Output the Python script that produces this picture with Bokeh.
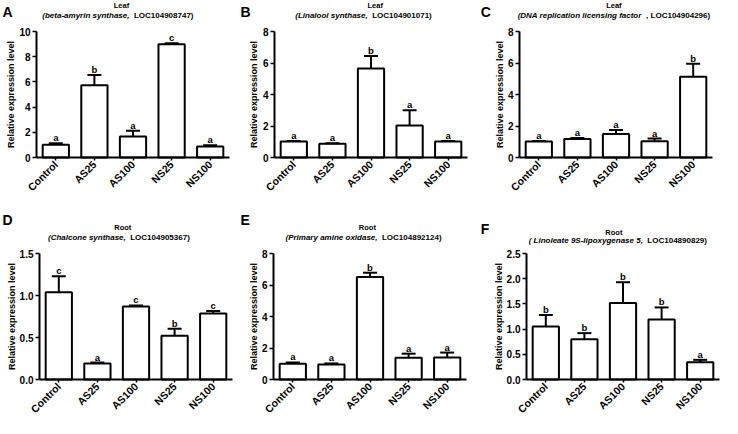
import math
from bokeh.plotting import figure
from bokeh.layouts import gridplot
from bokeh.models import ColumnDataSource, Range1d, FixedTicker, Label, NumeralTickFormatter
from bokeh.core.properties import value
from bokeh.embed import file_html
from bokeh.resources import INLINE

FONT = "Liberation Sans"

categories = ["Control", "AS25", "AS100", "NS25", "NS100"]

a_mean = [1.02, 5.73, 1.66, 8.98, 0.87]
a_err = [0.12, 0.81, 0.46, 0.08, 0.11]
a_sig = ["a", "b", "a", "c", "a"]
a_ticks = [0, 2, 4, 6, 8, 10]

b_mean = [1.02, 0.87, 5.65, 2.03, 1.02]
b_err = [0.02, 0.03, 0.79, 0.97, 0.02]
b_sig = ["a", "a", "b", "a", "a"]
b_ticks = [0, 2, 4, 6, 8]

c_mean = [1.02, 1.18, 1.50, 1.03, 5.12]
c_err = [0.02, 0.06, 0.25, 0.17, 0.84]
c_sig = ["a", "a", "a", "a", "b"]
c_ticks = [0, 2, 4, 6, 8]

d_mean = [1.04, 0.19, 0.87, 0.52, 0.785]
d_err = [0.19, 0.012, 0.012, 0.085, 0.03]
d_sig = ["c", "a", "c", "b", "c"]
d_ticks = [0.0, 0.5, 1.0, 1.5]

e_mean = [1.00, 0.96, 6.51, 1.38, 1.40]
e_err = [0.08, 0.06, 0.27, 0.26, 0.31]
e_sig = ["a", "a", "b", "a", "a"]
e_ticks = [0, 2, 4, 6, 8]

f_mean = [1.05, 0.80, 1.52, 1.19, 0.34]
f_err = [0.23, 0.12, 0.41, 0.24, 0.05]
f_sig = ["b", "b", "b", "b", "a"]
f_ticks = [0.0, 0.5, 1.0, 1.5, 2.0, 2.5]

panel_letters = ["A", "B", "C", "D", "E", "F"]
tissues = ["Leaf", "Leaf", "Leaf", "Root", "Root", "Root"]
gene_names = ["(beta-amyrin synthase,", "(Linalool synthase,", "(DNA replication licensing factor",
              "(Chalcone synthase,", "(Primary amine oxidase,", "( Linoleate 9S-lipoxygenase 5,"]
gene_ids = ["LOC104908747)", "LOC104901071)", ", LOC104904296)",
            "LOC104905367)", "LOC104892124)", "LOC104890829)"]
y_title = "Relative expression level"

panel_data = [
    (a_mean, a_err, a_sig, a_ticks, "0"),
    (b_mean, b_err, b_sig, b_ticks, "0"),
    (c_mean, c_err, c_sig, c_ticks, "0"),
    (d_mean, d_err, d_sig, d_ticks, "0.0"),
    (e_mean, e_err, e_sig, e_ticks, "0"),
    (f_mean, f_err, f_sig, f_ticks, "0.0"),
]

W_CHAR = {" ": 278, "(": 333, ")": 333, ",": 278, "-": 333, ".": 278,
          "A": 722, "B": 722, "C": 722, "D": 722, "E": 667, "F": 611, "L": 611, "N": 722,
          "O": 778, "P": 667, "S": 667, "a": 556, "b": 611, "c": 556, "d": 611, "e": 556,
          "f": 333, "g": 611, "h": 611, "i": 278, "j": 278, "k": 556, "l": 278, "m": 889,
          "n": 611, "o": 611, "p": 611, "q": 611, "r": 389, "s": 556, "t": 333, "u": 611,
          "v": 556, "w": 778, "x": 556, "y": 556, "z": 500}


def text_w(s, size):
    return sum(W_CHAR.get(ch, 556) for ch in s) * size / 1000.0


PLOT_W, PLOT_H, FIG_H = 193, 126, 209

# fig width, axis left (px), axis top (px), letter pos, title centres, y-title standoff
layouts = [
    dict(width=240, fl=36, ft=31, letter=(2, 3), t1=(121, 5.3), t2=(117.4, 15.4), ylab_so=0),
    dict(width=239, fl=34, ft=31, letter=(0, 3), t1=(134.7, 5.3), t2=(123, 15.4), ylab_so=1),
    dict(width=243, fl=40, ft=31, letter=(1.3, 3), t1=(134.4, 5.3), t2=(134.4, 15.4), ylab_so=0),
    dict(width=240, fl=39, ft=44, letter=(2, 2), t1=(122.3, 18), t2=(118.4, 28), ylab_so=0),
    dict(width=239, fl=33, ft=44, letter=(0, 2), t1=(126.9, 18), t2=(123, 28), ylab_so=0),
    dict(width=243, fl=47, ft=44, letter=(1.3, 11.5), t1=(134.4, 23), t2=(138.3, 31), ylab_so=0),
]


def make_panel(i):
    mean, err, sig, ticks, fmt = panel_data[i]
    lay = layouts[i]
    fl, ft, w = lay["fl"], lay["ft"], lay["width"]
    ymax = ticks[-1]
    ncat = len(categories)
    px_x = ncat / PLOT_W          # data units per pixel (x)
    px_y = ymax / PLOT_H          # data units per pixel (y)
    x_start = -0.5 - fl * px_x
    y_end = ymax + ft * px_y
    p = figure(width=w, height=FIG_H,
               x_range=Range1d(x_start, x_start + w * px_x),
               y_range=Range1d(y_end - FIG_H * px_y, y_end),
               output_backend="svg", toolbar_location=None,
               min_border=0, min_border_left=0, min_border_right=0,
               min_border_top=0, min_border_bottom=0)
    p.background_fill_color = "white"
    p.border_fill_color = "white"
    p.outline_line_color = None
    p.xgrid.visible = False
    p.ygrid.visible = False

    pos = list(range(ncat))
    upper = [m + e for m, e in zip(mean, err)]
    sig_y = [u + 5.5 * px_y for u in upper]
    src = ColumnDataSource(dict(pos=pos, cat=categories, mean=mean, upper=upper, sig=sig, sig_y=sig_y))
    p.vbar(x="pos", top="mean", width=0.68, source=src, fill_color="white",
           line_color="black", line_width=2)
    p.segment(x0="pos", y0="mean", x1="pos", y1="upper", source=src,
              line_color="black", line_width=2)
    p.scatter(x="pos", y="upper", marker="dash", size=14, line_width=2,
              line_color="black", source=src)
    p.text(x="pos", y="sig_y", text="sig", source=src, text_font=value(FONT),
           text_font_style="bold", text_font_size="9.5px", text_align="center",
           text_baseline="alphabetic", text_color="black")

    xa, ya = p.xaxis[0], p.yaxis[0]
    for ax in (xa, ya):
        ax.axis_line_width = 2
        ax.axis_line_color = "black"
        ax.major_tick_line_width = 1.5
        ax.major_tick_line_color = "black"
        ax.major_tick_in = 0
        ax.minor_tick_line_color = None
        ax.major_label_text_font = FONT
        ax.major_label_text_font_style = "bold"
        ax.major_label_text_color = "black"
        ax.major_label_standoff = 2
    xa.fixed_location = 0
    xa.bounds = (-0.5, ncat - 0.5)
    xa.ticker = FixedTicker(ticks=pos)
    xa.major_label_overrides = {k: c for k, c in zip(pos, categories)}
    xa.major_tick_out = 3
    xa.major_label_orientation = math.pi / 4
    xa.major_label_text_font_size = "10.5px"

    ya.fixed_location = -0.5
    ya.bounds = (0, ymax)
    ya.major_tick_out = 4
    ya.ticker = FixedTicker(ticks=ticks)
    ya.formatter = NumeralTickFormatter(format=fmt)
    ya.major_label_text_font_size = "10px"
    ya.axis_label = y_title
    ya.axis_label_text_font = FONT
    ya.axis_label_text_font_style = "bold"
    ya.axis_label_text_font_size = "9px"
    ya.axis_label_text_color = "black"
    ya.axis_label_standoff = int(lay["ylab_so"])

    def lab(xf, yf, text, size, style="bold", align="left", baseline="middle"):
        p.add_layout(Label(x=x_start + xf * px_x, y=y_end - yf * px_y, text=text,
                           text_font=FONT, text_font_style=style,
                           text_font_size=f"{size}px", text_align=align,
                           text_baseline=baseline, text_color="black"))

    lx, ly = lay["letter"]
    lab(lx, ly, panel_letters[i], 14, align="left", baseline="top")
    cx, cy = lay["t1"]
    lab(cx, cy, tissues[i], 7.5, align="center")
    cx, cy = lay["t2"]
    size2 = 8
    wi = text_w(gene_names[i], size2)
    wg = text_w("  ", size2)
    wr = text_w(gene_ids[i], size2)
    x0 = cx - (wi + wg + wr) / 2
    lab(x0, cy, gene_names[i], size2, style="bold italic")
    lab(x0 + wi + wg, cy, gene_ids[i], size2)
    return p


figs = [make_panel(i) for i in range(6)]
grid = gridplot([figs[0:3], figs[3:6]], toolbar_location=None)

open("out.html", "w").write(file_html(grid, INLINE))
